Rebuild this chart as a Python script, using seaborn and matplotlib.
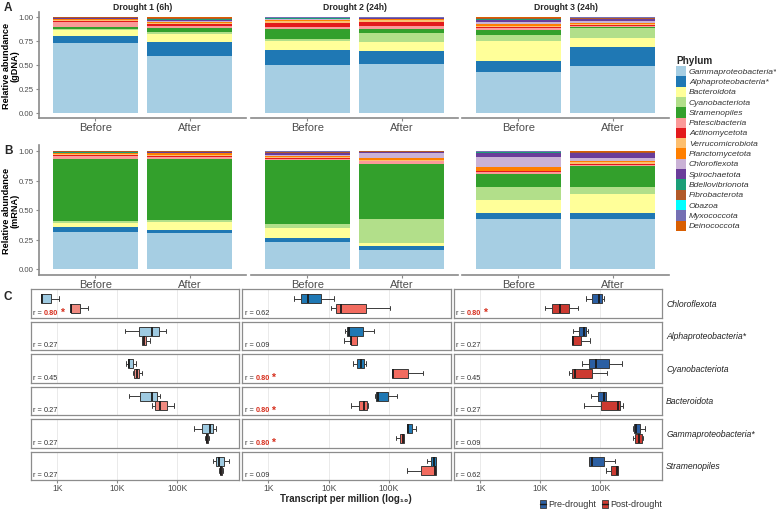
import numpy as np
import pandas as pd
import matplotlib
matplotlib.use("Agg")
import matplotlib.pyplot as plt
import seaborn as sns
from matplotlib.patches import Rectangle
from matplotlib.lines import Line2D
from matplotlib.ticker import NullLocator, FixedLocator

sns.set_theme(style="white")
plt.rcParams["font.family"] = ["Liberation Sans", "DejaVu Sans"]

# ---------------- data ----------------
phyla = ["Gammaproteobacteria*", "Alphaproteobacteria*", "Bacteroidota", "Cyanobacteriota",
         "Stramenopiles", "Patescibacteria", "Actinomycetota", "Verrucomicrobiota",
         "Planctomycetota", "Chloroflexota", "Spirochaetota", "Bdellovibrionota",
         "Fibrobacterota", "Obazoa", "Myxococcota", "Deinococcota"]
phylum_colors = ["#A6CEE3", "#1F78B4", "#FFFF99", "#B2DF8A", "#33A02C", "#FB9A99", "#E31A1C",
                 "#FDBF6F", "#FF7F00", "#CAB2D6", "#6A3D9A", "#1B9E77", "#B15928", "#00FFFF",
                 "#7570B3", "#D95F02"]
droughts = ["Drought 1 (6h)", "Drought 2 (24h)", "Drought 3 (24h)"]
samples = ["Before", "After"]

# gDNA relative abundance (panel A), order as phyla
gdna_d1_before = [0.726, 0.080, 0.062, 0.006, 0.027, 0.048, 0.010, 0.010, 0.010, 0.004, 0.003, 0.008, 0.003, 0.000, 0.002, 0.001]
gdna_d1_after  = [0.597, 0.146, 0.083, 0.014, 0.042, 0.025, 0.015, 0.015, 0.015, 0.008, 0.008, 0.012, 0.008, 0.000, 0.006, 0.006]
gdna_d2_before = [0.500, 0.160, 0.090, 0.021, 0.104, 0.021, 0.042, 0.018, 0.012, 0.006, 0.008, 0.006, 0.004, 0.000, 0.004, 0.004]
gdna_d2_after  = [0.514, 0.128, 0.094, 0.097, 0.042, 0.028, 0.048, 0.014, 0.010, 0.006, 0.006, 0.004, 0.003, 0.000, 0.003, 0.003]
gdna_d3_before = [0.424, 0.121, 0.205, 0.0625, 0.0525, 0.024, 0.010, 0.012, 0.012, 0.020, 0.025, 0.012, 0.008, 0.000, 0.006, 0.006]
gdna_d3_after  = [0.493, 0.191, 0.094, 0.104, 0.014, 0.014, 0.008, 0.014, 0.010, 0.012, 0.022, 0.008, 0.008, 0.000, 0.004, 0.004]
# mRNA relative abundance (panel B)
mrna_d1_before = [0.317, 0.040, 0.031, 0.020, 0.527, 0.025, 0.005, 0.008, 0.006, 0.003, 0.003, 0.010, 0.002, 0.001, 0.001, 0.001]
mrna_d1_after  = [0.306, 0.028, 0.063, 0.017, 0.521, 0.015, 0.008, 0.012, 0.010, 0.005, 0.005, 0.005, 0.003, 0.000, 0.001, 0.001]
mrna_d2_before = [0.227, 0.036, 0.085, 0.034, 0.539, 0.012, 0.006, 0.012, 0.008, 0.008, 0.012, 0.006, 0.004, 0.005, 0.004, 0.002]
mrna_d2_after  = [0.164, 0.029, 0.031, 0.198, 0.470, 0.023, 0.002, 0.010, 0.010, 0.045, 0.010, 0.002, 0.002, 0.000, 0.002, 0.002]
mrna_d3_before = [0.422, 0.051, 0.108, 0.113, 0.113, 0.012, 0.010, 0.005, 0.028, 0.088, 0.034, 0.004, 0.004, 0.000, 0.006, 0.002]
mrna_d3_after  = [0.422, 0.051, 0.159, 0.062, 0.179, 0.006, 0.010, 0.022, 0.006, 0.023, 0.040, 0.005, 0.005, 0.000, 0.005, 0.005]

gdna = [(gdna_d1_before, gdna_d1_after), (gdna_d2_before, gdna_d2_after), (gdna_d3_before, gdna_d3_after)]
mrna = [(mrna_d1_before, mrna_d1_after), (mrna_d2_before, mrna_d2_after), (mrna_d3_before, mrna_d3_after)]

# Panel C: transcripts per million, five-number summaries (min, q1, median, q3, max)
c_phyla = ["Chloroflexota", "Alphaproteobacteria*", "Cyanobacteriota", "Bacteroidota",
           "Gammaproteobacteria*", "Stramenopiles"]
tpm_d1_pre = [[541, 541, 556, 785, 1080], [13580, 22650, 38730, 50700, 65600],
              [13740, 14860, 15420, 18280, 20750], [15420, 24430, 38730, 45920, 52720],
              [194100, 261200, 354800, 393600, 441600], [402700, 446700, 501200, 606700, 744700]]
tpm_d1_post = [[1667, 1667, 1710, 2357, 3250], [25820, 25820, 28510, 30060, 35480],
               [18280, 18970, 21380, 23010, 25820], [37840, 43450, 52120, 67300, 89130],
               [295100, 300600, 312600, 328900, 338800], [507000, 515200, 534600, 562300, 575400]]
tpm_d2_pre = [[2612, 3412, 4592, 7551, 12110], [18710, 20180, 21780, 37840, 56230],
              [25820, 30060, 34120, 38730, 42460], [58480, 62370, 64860, 95060, 134300],
              [201800, 201800, 209900, 244300, 278600], [424600, 495500, 562300, 599800, 599800]]
tpm_d2_post = [[10790, 13090, 15850, 41400, 104000], [18280, 23280, 23880, 29310, 29310],
               [110900, 110900, 118000, 209900, 369000], [23880, 31620, 39360, 43450, 44670],
               [129400, 150700, 169000, 179900, 179900], [197200, 337300, 584800, 599800, 599800]]
tpm_d3_pre = [[57810, 73620, 95060, 106700, 116700], [35890, 45190, 54080, 58480, 62370],
              [49550, 64860, 84720, 139600, 230100], [69980, 92680, 116700, 124500, 124500],
              [350800, 369000, 398100, 469900, 555900], [64860, 64860, 73620, 115300, 175800]]
tpm_d3_post = [[11800, 15850, 20990, 30410, 43450], [34120, 34120, 35890, 48190, 67300],
               [30060, 34510, 38730, 72780, 130900], [54080, 104000, 197200, 217800, 244300],
               [350800, 382800, 451900, 495500, 515200], [125900, 154200, 189700, 201800, 201800]]
tpm = [(tpm_d1_pre, tpm_d1_post), (tpm_d2_pre, tpm_d2_post), (tpm_d3_pre, tpm_d3_post)]

r_d1 = ["0.80", "0.27", "0.45", "0.27", "0.27", "0.27"]
r_d2 = ["0.62", "0.09", "0.80", "0.80", "0.80", "0.09"]
r_d3 = ["0.80", "0.27", "0.45", "0.27", "0.09", "0.62"]
sig_d1 = [True, False, False, False, False, False]
sig_d2 = [False, False, True, True, True, False]
sig_d3 = [True, False, False, False, False, False]
r_vals = [r_d1, r_d2, r_d3]
r_sig = [sig_d1, sig_d2, sig_d3]

box_colors = [("#9ECAE1", "#F08A80"), ("#1F78B4", "#F26B5F"), ("#2B5FA3", "#CC3A31")]
conds = ["Pre-drought", "Post-drought"]
xtick_vals = [1e3, 1e4, 1e5]
xtick_labels = ["1K", "10K", "100K"]

# ---------------- figure ----------------
W, H = 776, 510
fig = plt.figure(figsize=(W / 100, H / 100), dpi=100)
GRAY_TXT = "#4d4d4d"
AXIS_COL = "#8a8a8a"


def add_ax(x0, y0, x1, y1):
    return fig.add_axes([x0 / W, 1 - y1 / H, (x1 - x0) / W, (y1 - y0) / H])


def draw_stack(ax, before, after):
    vals = np.array([before, after], dtype=float)
    cum = np.cumsum(vals, axis=1)
    for k in range(len(phyla) - 1, -1, -1):
        df = pd.DataFrame({"sample": samples, "cum": cum[:, k]})
        sns.barplot(data=df, x="sample", y="cum", order=samples, color=phylum_colors[k],
                    saturation=1, width=0.9, errorbar=None, ax=ax, linewidth=0)


facet_x = [(39, 246), (251, 458), (462, 669)]
panels = [(gdna, 13.2, 118.8, "Relative abundance\n(gDNA)"),
          (mrna, 146.1, 275.9, "Relative abundance\n(mRNA)")]
for pi, (pdata, ytop, ybot, ylab) in enumerate(panels):
    for fi, (x0, x1) in enumerate(facet_x):
        ax = add_ax(x0, ytop, x1, ybot)
        draw_stack(ax, *pdata[fi])
        ax.set_xlim(-0.6, 1.6)
        ax.set_ylim(-0.05, 1.05)
        ax.set_xlabel("")
        ax.set_ylabel("")
        for s in ["top", "right"]:
            ax.spines[s].set_visible(False)
        ax.spines["bottom"].set_color(AXIS_COL)
        ax.spines["bottom"].set_linewidth(1.2)
        ax.tick_params(axis="x", colors=AXIS_COL, labelcolor=GRAY_TXT, labelsize=8,
                       length=2, width=0.8, pad=0.8, bottom=True)
        if fi == 0:
            ax.spines["left"].set_color(AXIS_COL)
            ax.spines["left"].set_linewidth(1.2)
            ax.set_yticks([0, 0.25, 0.5, 0.75, 1.0])
            ax.set_yticklabels(["0.00", "0.25", "0.50", "0.75", "1.00"])
            ax.tick_params(axis="y", colors=AXIS_COL, labelcolor=GRAY_TXT, labelsize=5.6,
                           length=2.5, width=0.8, pad=1.5, left=True)
            ax.set_ylabel(ylab, fontsize=6.6, fontweight="bold", color="black", linespacing=1.0)
            ax.yaxis.set_label_coords(-0.093, 0.5)
        else:
            ax.spines["left"].set_visible(False)
            ax.tick_params(axis="y", left=False, labelleft=False)
        if pi == 0:
            fig.text(((x0 + x1) / 2) / W, 1 - 8 / H, droughts[fi], ha="center", va="center",
                     fontsize=6.2, fontweight="bold")

# Panel labels
fig.text(4 / W, 1 - 8 / H, "A", fontsize=8.5, fontweight="bold", va="center")
fig.text(4 / W, 1 - 151 / H, "B", fontsize=8.5, fontweight="bold", va="center")
fig.text(4 / W, 1 - 297 / H, "C", fontsize=8.5, fontweight="bold", va="center")

# Phylum legend
fig.text(676 / W, 1 - 61 / H, "Phylum", fontsize=7.2, fontweight="bold", va="center")
row_h = 10.3
for i, (name, col) in enumerate(zip(phyla, phylum_colors)):
    ytop = 67 + i * row_h
    fig.add_artist(Rectangle((676 / W, 1 - (ytop + row_h) / H), 10 / W, row_h / H,
                             transform=fig.transFigure, facecolor=col, edgecolor="none"))
    fig.text(689 / W, 1 - (ytop + row_h / 2) / H, name, fontsize=6.1, style="italic",
             va="center", color="#333333")

# ---------------- Panel C ----------------
c_facet_x = [(31, 239), (242, 451), (454, 662)]
c_rows_y = [290, 322.5, 355, 387.5, 420, 452.5]
row_height = 28.5
xlim = (10 ** 2.56, 10 ** 6.033)
for fi, (x0, x1) in enumerate(c_facet_x):
    pre_list, post_list = tpm[fi]
    for ri, y0 in enumerate(c_rows_y):
        ax = add_ax(x0, y0, x1, y0 + row_height)
        df = pd.DataFrame({
            "tpm": list(pre_list[ri]) + list(post_list[ri]),
            "cond": [conds[0]] * len(pre_list[ri]) + [conds[1]] * len(post_list[ri]),
        })
        sns.boxplot(data=df, x="tpm", y="cond", hue="cond", order=conds, hue_order=conds,
                    palette=list(box_colors[fi]), saturation=1, width=0.95, whis=(0, 100),
                    log_scale=True, linewidth=0.7, linecolor="#3a3a3a", fliersize=0,
                    medianprops=dict(color="#1a1a1a", linewidth=1.3), legend=False, ax=ax)
        ax.set_xlim(*xlim)
        ax.set_ylim(1.97, -1.0)
        ax.set_xlabel("")
        ax.set_ylabel("")
        ax.set_yticks([])
        ax.xaxis.set_major_locator(FixedLocator(xtick_vals))
        ax.xaxis.set_minor_locator(NullLocator())
        ax.grid(axis="x", color="#e6e6e6", linewidth=0.6)
        ax.grid(axis="y", visible=False)
        ax.set_axisbelow(True)
        for s in ax.spines.values():
            s.set_visible(True)
            s.set_color("#8c8c8c")
            s.set_linewidth(0.9)
        if ri == len(c_rows_y) - 1:
            ax.set_xticklabels(xtick_labels)
            ax.tick_params(axis="x", bottom=True, length=2, width=0.8, colors=AXIS_COL,
                           labelcolor=GRAY_TXT, labelsize=6.2, pad=0.5)
        else:
            ax.tick_params(axis="x", bottom=False, labelbottom=False)
        # correlation label
        t1 = ax.text(0.012, 0.06, "r = ", transform=ax.transAxes, fontsize=5.3,
                     color="#333333", ha="left", va="bottom")
        if r_sig[fi][ri]:
            t2 = ax.annotate(r_vals[fi][ri], xy=(1, 0), xycoords=t1, va="bottom", ha="left",
                             fontsize=5.3, color="#D7301F", fontweight="bold")
            ax.annotate("*", xy=(1, 0), xycoords=t2, xytext=(1.2, -1.0), textcoords="offset points",
                        va="bottom", ha="left", fontsize=7.5, color="#D7301F", fontweight="bold")
        else:
            ax.annotate(r_vals[fi][ri], xy=(1, 0), xycoords=t1, va="bottom", ha="left",
                        fontsize=5.3, color="#333333")
        if fi == 2:
            ax.text(1.02, 0.5, c_phyla[ri], transform=ax.transAxes, fontsize=6.2,
                    style="italic", va="center", ha="left", color="#222222")

fig.text(346 / W, 1 - 499.5 / H, "Transcript per million (log\u2081\u2080)", ha="center",
         va="center", fontsize=7, fontweight="bold")

# bottom legend
for (kx, tx, label, col) in [(540, 548, "Pre-drought", box_colors[2][0]),
                             (602, 610, "Post-drought", box_colors[2][1])]:
    fig.add_artist(Rectangle((kx / W, 1 - 509 / H), 6 / W, 8 / H, transform=fig.transFigure,
                             facecolor=col, edgecolor="#3a3a3a", linewidth=0.6))
    fig.add_artist(Line2D([kx / W, (kx + 6) / W], [1 - 505 / H, 1 - 505 / H],
                          transform=fig.transFigure, color="#1a1a1a", linewidth=1.0))
    fig.text(tx / W, 1 - 505 / H, label, fontsize=6.5, va="center", color="#333333")

fig.savefig("out.png", dpi=100)
